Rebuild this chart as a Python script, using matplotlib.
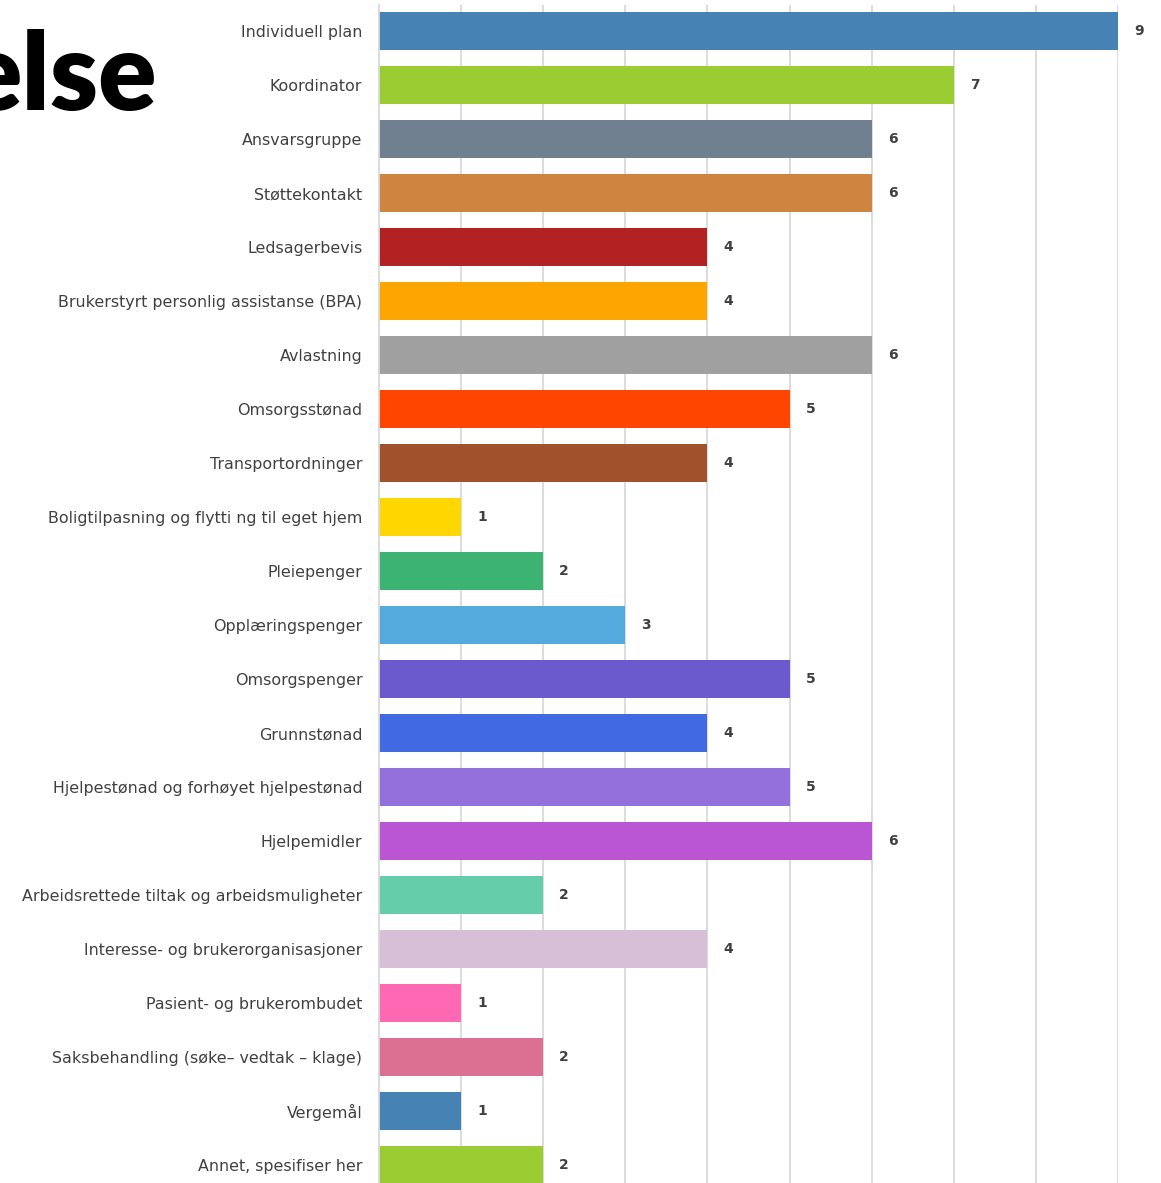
import matplotlib.pyplot as plt

categories = [
    "Individuell plan",
    "Koordinator",
    "Ansvarsgruppe",
    "Støttekontakt",
    "Ledsagerbevis",
    "Brukerstyrt personlig assistanse (BPA)",
    "Avlastning",
    "Omsorgsstønad",
    "Transportordninger",
    "Boligtilpasning og flytti ng til eget hjem",
    "Pleiepenger",
    "Opplæringspenger",
    "Omsorgspenger",
    "Grunnstønad",
    "Hjelpestønad og forhøyet hjelpestønad",
    "Hjelpemidler",
    "Arbeidsrettede tiltak og arbeidsmuligheter",
    "Interesse- og brukerorganisasjoner",
    "Pasient- og brukerombudet",
    "Saksbehandling (søke– vedtak – klage)",
    "Vergemål",
    "Annet, spesifiser her",
]
values = [9, 7, 6, 6, 4, 4, 6, 5, 4, 1, 2, 3, 5, 4, 5, 6, 2, 4, 1, 2, 1, 2]
colors = [
    "#4682B4", "#9ACD32", "#708090", "#CD853F", "#B22222", "#FFA500",
    "#A0A0A0", "#FF4500", "#A0522D", "#FFD700", "#3CB371", "#55AADD",
    "#6A5ACD", "#4169E1", "#9370DB", "#BA55D3", "#66CDAA", "#D8BFD8",
    "#FF69B4", "#DB7093", "#4682B4", "#9ACD32",
]

W, H = 1161, 1183
fig = plt.figure(figsize=(W / 100, H / 100), dpi=100)
ax = fig.add_axes([379 / W, 0, (1118 - 379) / W, 1 - 5 / H])

pos = list(range(len(categories)))
ax.barh(pos, values, height=0.69, color=colors, zorder=2)
ax.set_xlim(0, 9)
ax.set_ylim(21 + 18 / 54, -26 / 54)

ax.set_xticks(range(1, 10))
ax.xaxis.grid(True, color="#D9D9D9", linewidth=1.3, zorder=0)
ax.tick_params(axis="x", length=0, labelbottom=False)
ax.set_yticks(pos)
ax.set_yticklabels(categories, fontsize=11.4, color="#404040", family="DejaVu Sans")
ax.tick_params(axis="y", length=0, pad=12)

for side in ["top", "right", "bottom"]:
    ax.spines[side].set_visible(False)
ax.spines["left"].set_color("#D9D9D9")
ax.spines["left"].set_linewidth(1.3)

for p, v in zip(pos, values):
    ax.annotate(str(v), (v, p), xytext=(16, 0), textcoords="offset pixels",
                va="center", ha="left", fontsize=10, color="#404040",
                fontweight="bold", annotation_clip=False)

# heading is cut off at the left edge, as in the reference
fig.text(157 / W, 1 - 110 / H, "else", ha="right", va="baseline",
         fontsize=78, fontweight="heavy", family="Lato", color="black")

fig.savefig("out.png", dpi=100)
